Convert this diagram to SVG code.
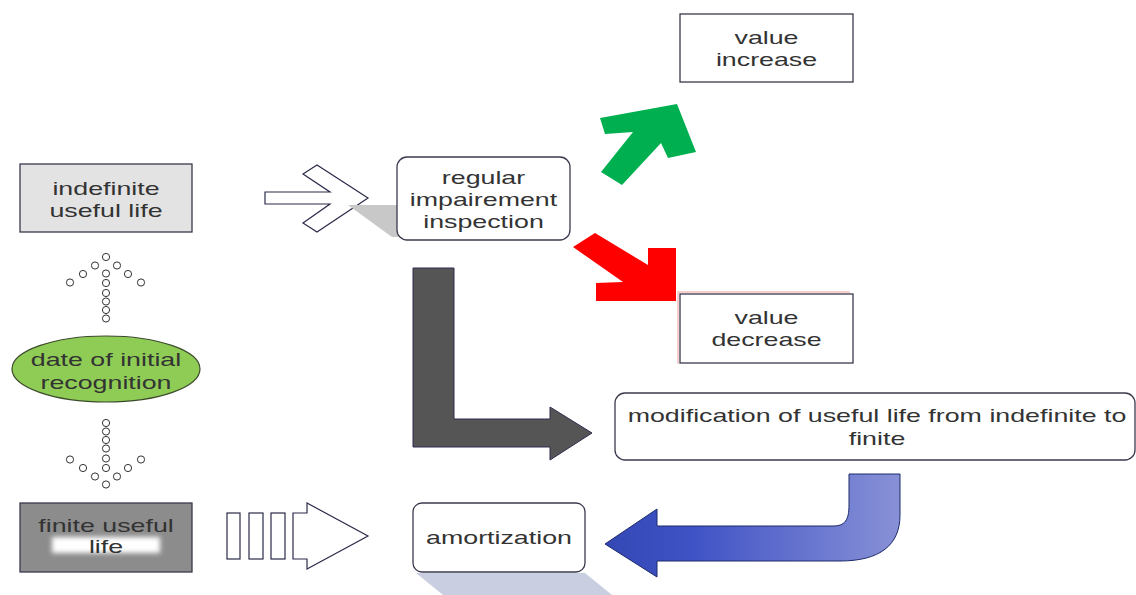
<svg xmlns="http://www.w3.org/2000/svg" width="1136" height="595" viewBox="0 0 1136 595">
<style>
.t{font-family:"Liberation Sans",Arial,sans-serif;font-size:19px;fill:#333;text-anchor:middle}
.box{stroke:#3a3a4e;stroke-width:1.3}
.dot{fill:#fff;stroke:#333;stroke-width:1}
.hollow{fill:#fff;stroke:#2b2b4a;stroke-width:1.2}
</style>
<defs>
<linearGradient id="blueG" x1="605" y1="0" x2="900" y2="0" gradientUnits="userSpaceOnUse">
<stop offset="0" stop-color="#3347b4"/>
<stop offset="0.3" stop-color="#4053c6"/>
<stop offset="1" stop-color="#8891d6"/>
</linearGradient>
<filter id="blur" x="-20%" y="-50%" width="140%" height="200%"><feGaussianBlur stdDeviation="2.5"/></filter>
</defs>
<rect width="1136" height="595" fill="#fff"/>

<g id="connectors">
<polygon id="c-hollow" class="hollow" points="265,192 330,192 303,174 317,165 368,198 317,232 303,223 330,204 265,204"/>
<g id="c-striped" class="hollow">
<rect x="227" y="513" width="13" height="46"/>
<rect x="249" y="513" width="14" height="46"/>
<rect x="271" y="513" width="14" height="46"/>
<polygon points="293,513 307,513 307,503 368,536 307,569 307,559 293,559"/>
</g>
<g id="c-dots-up">
<circle class="dot" cx="106" cy="257" r="3.6"/>
<circle class="dot" cx="95" cy="265.5" r="3.6"/><circle class="dot" cx="117" cy="265.5" r="3.6"/>
<circle class="dot" cx="83" cy="274" r="3.6"/><circle class="dot" cx="106" cy="273.5" r="3.6"/><circle class="dot" cx="128" cy="274" r="3.6"/>
<circle class="dot" cx="70" cy="282.5" r="3.6"/><circle class="dot" cx="106" cy="283" r="3.6"/><circle class="dot" cx="141" cy="282.5" r="3.6"/>
<circle class="dot" cx="106" cy="293" r="3.6"/><circle class="dot" cx="106" cy="301.5" r="3.6"/><circle class="dot" cx="106" cy="310" r="3.6"/><circle class="dot" cx="106" cy="318.5" r="3.6"/>
</g>
<g id="c-dots-down">
<circle class="dot" cx="106" cy="423" r="3.6"/><circle class="dot" cx="106" cy="431.5" r="3.6"/><circle class="dot" cx="106" cy="440" r="3.6"/><circle class="dot" cx="106" cy="448.5" r="3.6"/>
<circle class="dot" cx="70" cy="459.5" r="3.6"/><circle class="dot" cx="106" cy="458.5" r="3.6"/><circle class="dot" cx="141" cy="459.5" r="3.6"/>
<circle class="dot" cx="83" cy="468" r="3.6"/><circle class="dot" cx="106" cy="468" r="3.6"/><circle class="dot" cx="128" cy="468" r="3.6"/>
<circle class="dot" cx="95" cy="476.5" r="3.6"/><circle class="dot" cx="117" cy="476.5" r="3.6"/>
<circle class="dot" cx="106" cy="484.5" r="3.6"/>
</g>
<polygon id="c-green" fill="#00b050" points="677,104 696,152 668,158 661,143 622,185 601,172 633,132 605,134 600,118"/>
<polygon id="c-red" fill="#ff0000" points="595,233 648,265 648,248 676,248 676,301 596,301 596,283 623,282 573,247"/>
<polygon id="c-dark" fill="#555" stroke="#2d2d50" stroke-width="1" points="413,268 454,268 454,419 550,419 550,407 592,433 550,460 550,447 413,447"/>
<path id="c-blue" fill="url(#blueG)" stroke="#1e2a6a" stroke-width="1" d="M849,474 H900 V515 C900,545 880,561 840,561 H657 V577 L605,544 L657,509 V526 H833 C845,526 849,520 849,505 Z"/>
</g>

<g id="n-indefinite">
<rect class="box" x="20" y="164" width="172" height="68" fill="#e3e3e3"/>
<text class="t" transform="translate(106,0) scale(1.41,1)" x="0" y="195">indefinite</text>
<text class="t" transform="translate(106,0) scale(1.41,1)" x="0" y="217">useful life</text>
</g>

<g id="n-date">
<ellipse cx="106" cy="369" rx="94" ry="33" fill="#8fcc55" stroke="#3a4a2a" stroke-width="1.2"/>
<text class="t" transform="translate(106,0) scale(1.41,1)" x="0" y="366">date of initial</text>
<text class="t" transform="translate(106,0) scale(1.41,1)" x="0" y="389">recognition</text>
</g>

<g id="n-finite">
<rect class="box" x="20" y="503" width="172" height="69" fill="#8c8c8c"/>
<rect x="52" y="537" width="108" height="16" fill="#fff" filter="url(#blur)"/>
<text class="t" transform="translate(106,0) scale(1.41,1)" x="0" y="532">finite useful</text>
<text class="t" transform="translate(106,0) scale(1.41,1)" x="0" y="553">life</text>
</g>

<g id="n-regular">
<polygon fill="#c8c8c8" points="348,205 398,205 398,237 392,237"/>
<rect class="box" x="397" y="157" width="173" height="83" rx="10" fill="#fff"/>
<text class="t" transform="translate(483.5,0) scale(1.41,1)" x="0" y="184">regular</text>
<text class="t" transform="translate(483.5,0) scale(1.41,1)" x="0" y="206">impairement</text>
<text class="t" transform="translate(483.5,0) scale(1.41,1)" x="0" y="228">inspection</text>
</g>

<g id="n-increase">
<rect class="box" x="680" y="14" width="173" height="68" fill="#fff"/>
<text class="t" transform="translate(766.5,0) scale(1.41,1)" x="0" y="44">value</text>
<text class="t" transform="translate(766.5,0) scale(1.41,1)" x="0" y="66">increase</text>
</g>

<g id="n-decrease">
<path d="M678,364 V292 H850" fill="none" stroke="#f5c0c0" stroke-width="1.5"/>
<rect class="box" x="680" y="294" width="173" height="69" fill="#fff"/>
<text class="t" transform="translate(766.5,0) scale(1.41,1)" x="0" y="324">value</text>
<text class="t" transform="translate(766.5,0) scale(1.41,1)" x="0" y="346">decrease</text>
</g>

<g id="n-modification">
<rect class="box" x="615" y="393" width="520" height="67" rx="10" fill="#fff"/>
<text class="t" transform="translate(877,0) scale(1.41,1)" x="0" y="422">modification of useful life from indefinite to</text>
<text class="t" transform="translate(877,0) scale(1.41,1)" x="0" y="445">finite</text>
</g>

<g id="n-amortization">
<polygon fill="#c9cfe0" points="416,573 585,573 612,595 443,595"/>
<rect class="box" x="413" y="503" width="172" height="69" rx="9" fill="#fff"/>
<text class="t" transform="translate(499,0) scale(1.41,1)" x="0" y="544">amortization</text>
</g>
</svg>
